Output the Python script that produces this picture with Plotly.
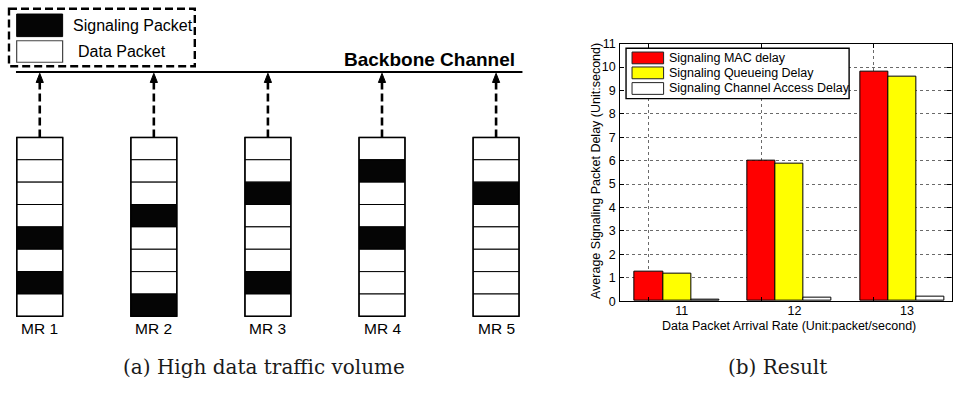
import plotly.graph_objects as go

W, H = 953, 393

# ---------------- (b) Result: bar chart data ----------------
arrival_rates = [11, 12, 13]
mac_delay = [1.26, 6.01, 9.79]
queueing_delay = [1.19, 5.86, 9.59]
access_delay = [0.05, 0.14, 0.20]
series_names = ["Signaling MAC delay", "Signaling Queueing Delay",
                "Signaling Channel Access Delay"]
series_values = [mac_delay, queueing_delay, access_delay]
series_colors = ["#ff0000", "#ffff00", "#ffffff"]
y_ticks = list(range(0, 12))

# ---------------- (a) Queue diagram data ----------------
mr_labels = ["MR 1", "MR 2", "MR 3", "MR 4", "MR 5"]
n_slots = 8
signaling_slots = [[4, 6], [3, 7], [2, 6], [1, 4], [2]]
packet_kinds = ["Signaling Packet", "Data Packet"]

SANS = "Liberation Sans, Arial, sans-serif"
SERIF = "DejaVu Serif, serif"

fig = go.Figure()

# grouped bars: each series shifted by one bar width inside its group
BAR_W = 0.25
for k, (name, vals, col) in enumerate(zip(series_names, series_values, series_colors)):
    fig.add_trace(go.Bar(
        x=[r + k * BAR_W for r in arrival_rates], y=vals, width=BAR_W,
        name=name, marker=dict(color=col, line=dict(color="black", width=1)),
        showlegend=False, xaxis="x", yaxis="y"))

# invisible pixel-unit axes used to place the diagram, legend and captions
fig.add_trace(go.Scatter(x=[0], y=[0], mode="markers", marker=dict(opacity=0),
                         showlegend=False, hoverinfo="skip", xaxis="x2", yaxis="y2"))

shapes = []
annotations = []

def px_rect(x0, y0, x1, y1, fill, lw=1.0, color="black", dash="solid", layer="above"):
    shapes.append(dict(type="rect", xref="x2", yref="y2", x0=x0, y0=y0, x1=x1, y1=y1,
                       fillcolor=fill, line=dict(color=color, width=lw, dash=dash),
                       layer=layer))

def px_text(x, y, text, size, family=SANS, xanchor="center", angle=0, color="black",
            weight="normal"):
    annotations.append(dict(xref="x2", yref="y2", x=x, y=y, text=text, showarrow=False,
                            xanchor=xanchor, yanchor="middle", textangle=angle,
                            font=dict(family=family, size=size, color=color,
                                      weight=weight)))

# ---- diagram geometry ----
COL_X0, COL_DX, COL_W = 39.8, 114.2, 46.0
SLOT_TOP, SLOT_H = 135.2, 23.2
BACKBONE_Y = 67.5
ARROW_TIP = 68.8
HEAD_H, HEAD_HW = 9.5, 3.6

# backbone channel line
shapes.append(dict(type="line", xref="x2", yref="y2", x0=16, x1=523,
                   y0=BACKBONE_Y, y1=BACKBONE_Y, line=dict(color="black", width=2)))
px_text(430, 54, "Backbone Channel", 19, weight="bold")

for i, label in enumerate(mr_labels):
    cx = COL_X0 + i * COL_DX
    for j in range(n_slots):
        y0 = SLOT_TOP + j * SLOT_H
        fill = "#050505" if j in signaling_slots[i] else "white"
        px_rect(cx - COL_W / 2, y0, cx + COL_W / 2, y0 + SLOT_H, fill, lw=1)
    px_rect(cx - COL_W / 2, SLOT_TOP, cx + COL_W / 2, SLOT_TOP + n_slots * SLOT_H,
            "rgba(0,0,0,0)", lw=1.5)
    # dashed arrow up to the backbone
    shapes.append(dict(type="line", xref="x2", yref="y2", x0=cx, x1=cx,
                       y0=SLOT_TOP, y1=ARROW_TIP + HEAD_H - 1,
                       line=dict(color="black", width=2.6, dash="8px,4px")))
    shapes.append(dict(type="path", xref="x2", yref="y2",
                       path=f"M{cx},{ARROW_TIP} L{cx - HEAD_HW},{ARROW_TIP + HEAD_H} "
                            f"L{cx + HEAD_HW},{ARROW_TIP + HEAD_H} Z",
                       fillcolor="black", line=dict(color="black", width=1)))
    px_text(cx, 333.5, label, 15.5)

# packet legend (dashed frame)
px_rect(9, 1.8, 195, 61.5, "white", lw=2.4, dash="8px,4px")
px_rect(16.7, 7.3, 62.7, 30.7, "#050505", lw=1)
px_rect(16.7, 35, 62.7, 57.3, "white", lw=1.2, color="#444")
px_text(70.7, 19.2, packet_kinds[0], 16, xanchor="left")
px_text(76, 46.2, packet_kinds[1], 16, xanchor="left")

# ---- legend of the result chart ----
px_rect(626.7, 42.7, 850, 95, "white", lw=1.4)
row_y = [52.8, 68.3, 84.5]
for name, col, yy in zip(series_names, series_colors, row_y):
    px_rect(632.7, yy - 6.1, 664.3, yy + 6.1, col, lw=1, color="#222")
    px_text(667.7, yy, name, 12.5, xanchor="left")

# axis titles of the result chart
px_text(596.7, 170, "Average Signaling Packet Delay (Unit:second)", 12.5, angle=-90)
px_text(790, 331, "Data Packet Arrival Rate (Unit:packet/second)", 12.5)

# sub-figure captions
px_text(264, 373, "(a) High data traffic volume", 20, family=SERIF, color="#1a1a1a")
px_text(778, 373, "(b) Result", 20, family=SERIF, color="#1a1a1a")

grid = dict(showgrid=True, gridcolor="#6a6a6a", gridwidth=1, griddash="dot")

fig.update_layout(
    width=W, height=H,
    margin=dict(l=0, r=0, t=0, b=0),
    paper_bgcolor="white", plot_bgcolor="rgba(0,0,0,0)",
    barmode="overlay", bargap=0,
    shapes=shapes, annotations=annotations,
    font=dict(family=SANS, size=12.5, color="black"),
    xaxis=dict(domain=[621 / W, 952.5 / W], range=[10.747, 13.689],
               tickvals=arrival_rates, ticktext=[str(r) for r in arrival_rates],
               ticklabelshift=33, ticks="inside", ticklen=4, tickcolor="black",
               showline=True, linecolor="black", linewidth=1.3, mirror="allticks",
               zeroline=False, tickfont=dict(size=12.5), ticklabelstandoff=-2,
               **grid),
    yaxis=dict(domain=[1 - 305 / H, 1 - 38 / H], range=[0, 11],
               tickvals=y_ticks, ticks="inside", ticklen=4, tickcolor="black",
               showline=True, linecolor="black", linewidth=1.3, mirror="allticks",
               zeroline=False, tickfont=dict(size=12.5), ticklabelstandoff=1, **grid),
    xaxis2=dict(domain=[0, 1], range=[0, W], visible=False, anchor="y2",
                fixedrange=True),
    yaxis2=dict(domain=[0, 1], range=[H, 0], visible=False, anchor="x2",
                fixedrange=True),
)

fig.write_html("out.html")
